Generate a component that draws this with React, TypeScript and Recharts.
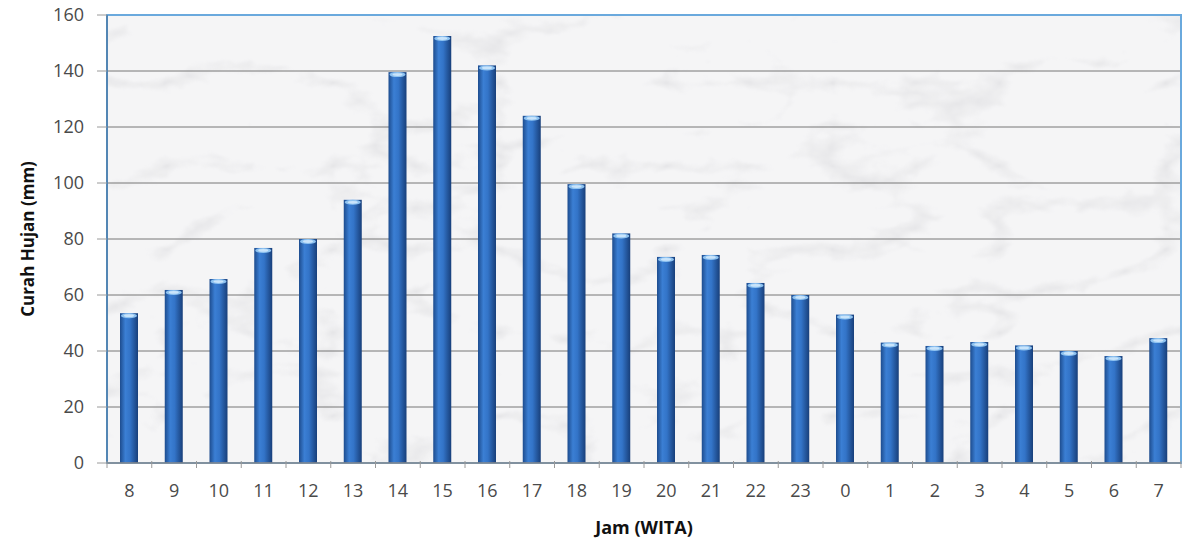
import React from 'react';
import { BarChart, Bar, XAxis, YAxis, CartesianGrid, ReferenceArea } from 'recharts';

// Curah hujan rata-rata per jam (WITA)
const jam = ['8', '9', '10', '11', '12', '13', '14', '15', '16', '17', '18', '19', '20', '21', '22', '23', '0', '1', '2', '3', '4', '5', '6', '7'];
const curahHujan = [53.5, 61.8, 65.7, 76.8, 80, 94, 139.6, 152.5, 142, 124, 99.6, 82, 73.6, 74.3, 64.3, 60, 53, 43, 41.8, 43.2, 42, 40, 38.2, 44.6];
const yTicks = [0, 20, 40, 60, 80, 100, 120, 140, 160];

const data = jam.map((j, i) => ({ jam: j, hujan: curahHujan[i] }));

const W = 1190;
const H = 544;
const PLOT_LEFT = 107;
const PLOT_RIGHT = 9;
const BAND = (W - PLOT_LEFT - PLOT_RIGHT) / jam.length;
const FONT = '"Open Sans", "Liberation Sans", sans-serif';

// batang silinder: gradasi horizontal + tutup atas yang lebih terang
const CylinderBar = (props: any) => {
  const { x, y, width, height } = props;
  if (!height || height <= 0) return null;
  return (
    <g>
      <rect x={x} y={y} width={width} height={height} fill="url(#barGrad)" />
      <ellipse cx={x + width / 2} cy={y + 2.5} rx={width / 2 - 1} ry={2.5} fill="#8fc3f0" />
      <ellipse cx={x + width / 2} cy={y + 2.5} rx={width / 2 - 4} ry={1.4} fill="#c9e4fb" />
    </g>
  );
};

// label jam dengan garis tick di batas kategori
const JamTick = (props: any) => {
  const { x, y, payload } = props;
  const bx = x - BAND / 2;
  return (
    <g>
      <line x1={bx} y1={y - 10} x2={bx} y2={y - 3} stroke="#9a9a9a" />
      {payload.index === jam.length - 1 && (
        <line x1={bx + BAND} y1={y - 10} x2={bx + BAND} y2={y - 3} stroke="#9a9a9a" />
      )}
      <text x={x} y={y + 26} textAnchor="middle" fontSize={18} fill="#4a4a4a" fontFamily={FONT}>
        {payload.value}
      </text>
    </g>
  );
};

export default function App() {
  return (
    <div style={{ position: 'absolute', left: 0, top: 0, width: W, height: H, background: '#fff' }}>
      <BarChart width={W} height={H} data={data} margin={{ top: 15, right: PLOT_RIGHT, left: 0, bottom: 0 }} barSize={18}>
        <defs>
          <linearGradient id="barGrad" x1="0" y1="0" x2="1" y2="0">
            <stop offset="0%" stopColor="#1d4c8e" />
            <stop offset="30%" stopColor="#3b7fd4" />
            <stop offset="55%" stopColor="#3374c8" />
            <stop offset="100%" stopColor="#183f7a" />
          </linearGradient>
          {/* tekstur marmer untuk latar area plot */}
          <filter id="marble" x="0" y="0" width="1" height="1" filterUnits="objectBoundingBox">
            <feTurbulence type="turbulence" baseFrequency="0.006 0.012" numOctaves={6} seed={11} result="noise" />
            <feColorMatrix
              in="noise"
              type="matrix"
              values="0 0 0 0 0.74  0 0 0 0 0.74  0 0 0 0 0.76  -3.6 0 0 0 0.8"
              result="veins"
            />
            <feGaussianBlur in="veins" stdDeviation="0.8" result="soft" />
            <feFlood floodColor="#f5f5f6" result="base" />
            <feComposite in="soft" in2="base" operator="over" />
          </filter>
          <pattern id="marbleBg" patternUnits="userSpaceOnUse" x="0" y="0" width={W} height={H}>
            <rect x="0" y="0" width={W} height={H} fill="#f2f2f3" filter="url(#marble)" />
          </pattern>
        </defs>
        <CartesianGrid vertical={false} stroke="#777" strokeWidth={1} fill="url(#marbleBg)" fillOpacity={1} />
        <XAxis
          dataKey="jam"
          height={81}
          tickLine={false}
          axisLine={{ stroke: '#8a8a8a', strokeWidth: 1.5 }}
          tick={<JamTick />}
          interval={0}
          label={{ value: 'Jam (WITA)', position: 'insideBottom', offset: 10, fontSize: 18, fontWeight: 700, fill: '#111', fontFamily: FONT }}
        />
        <YAxis
          domain={[0, 160]}
          ticks={yTicks}
          width={PLOT_LEFT}
          tickSize={10}
          tickMargin={13}
          tickLine={{ stroke: '#9a9a9a' }}
          axisLine={{ stroke: '#4d7ba6', strokeWidth: 1.5 }}
          tick={{ fontSize: 18, fill: '#4a4a4a', fontFamily: FONT }}
          label={{ value: 'Curah Hujan (mm)', angle: -90, position: 'insideLeft', offset: 28, fontSize: 17, fontWeight: 700, fill: '#111', fontFamily: FONT, style: { textAnchor: 'middle' } }}
        />
        <ReferenceArea y1={0} y2={160} fill="none" stroke="#6aa9dd" strokeWidth={2} ifOverflow="visible" />
        <Bar dataKey="hujan" shape={<CylinderBar />} isAnimationActive={false} />
      </BarChart>
    </div>
  );
}
